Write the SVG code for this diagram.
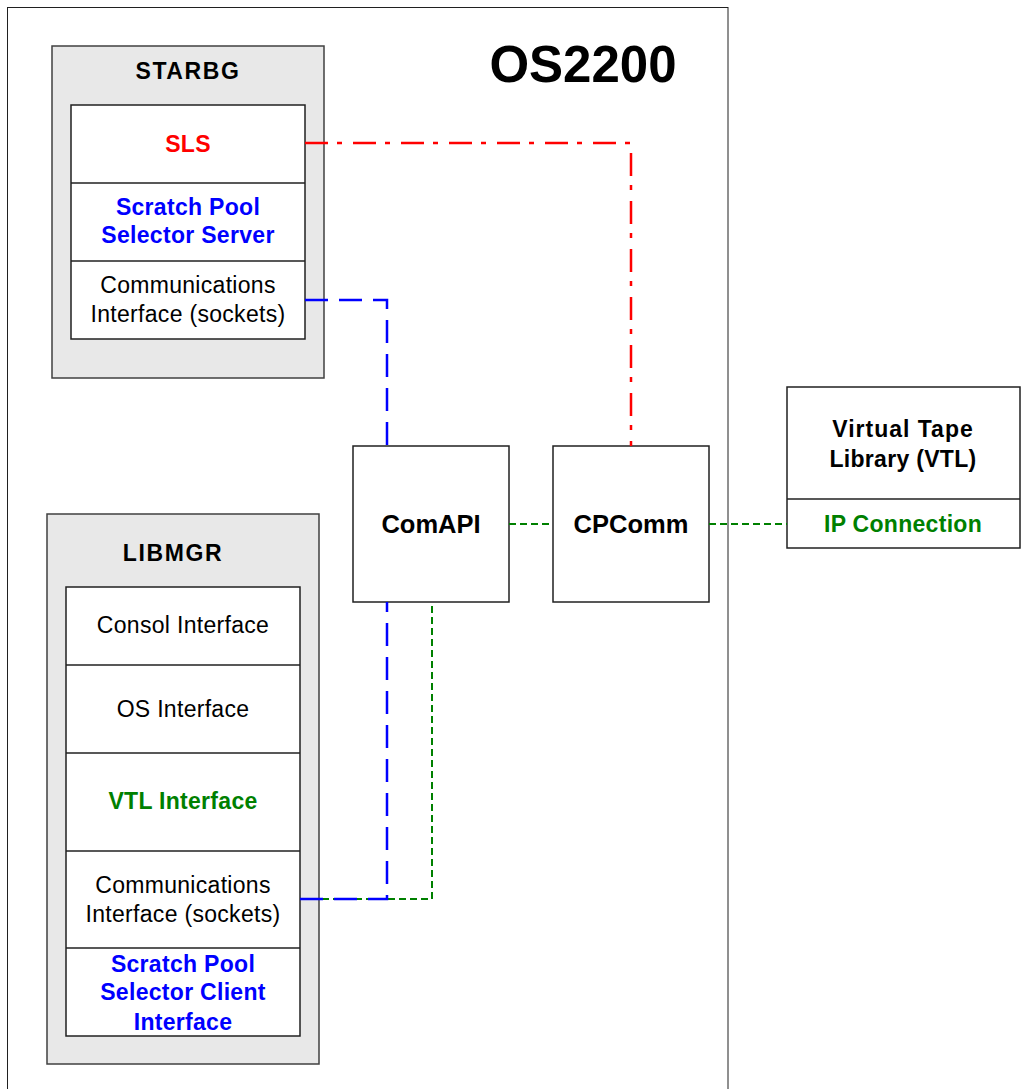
<svg xmlns="http://www.w3.org/2000/svg" width="1023" height="1089" viewBox="0 0 1023 1089">
<style>
  text { font-family: "Liberation Sans", Arial, sans-serif; text-anchor: middle; }
  .t { font-size: 23px; fill: #000; letter-spacing: 0.3px; }
  .b { font-weight: bold; }
  .wide { letter-spacing: 1.6px; }
  .red { fill: #ff0000; }
  .blue { fill: #0000ff; }
  .green { fill: #008000; }
  .grp { fill: #e8e8e8; stroke: #404040; stroke-width: 1.5; }
  .box { fill: #ffffff; stroke: #202020; stroke-width: 1.5; }
  .div { stroke: #202020; stroke-width: 1.5; fill: none; }
  .cR { stroke: #ff0000; stroke-width: 2.5; fill: none; stroke-dasharray: 23 9 5 11; }
  .cB { stroke: #0000ff; stroke-width: 2.5; fill: none; stroke-dasharray: 23 11; }
  .cG { stroke: #008000; stroke-width: 2; fill: none; stroke-dasharray: 7 4; }
</style>

<g id="os2200">
  <rect x="7.5" y="7.5" width="720.5" height="1095" fill="#ffffff" stroke="#202020" stroke-width="1"/>
  <text x="583" y="82" font-size="51" font-weight="bold">OS2200</text>
</g>

<g id="starbg">
  <rect class="grp" x="52" y="46" width="272" height="332"/>
  <text class="t b wide" x="188" y="79">STARBG</text>
  <rect class="box" x="71" y="105" width="234" height="234"/>
  <line class="div" x1="71" y1="183" x2="305" y2="183"/>
  <line class="div" x1="71" y1="261" x2="305" y2="261"/>
</g>
<g id="sls">
  <text class="t b red" x="188" y="152">SLS</text>
</g>
<g id="sps-server">
  <text class="t b blue" x="188" y="215">Scratch Pool</text>
  <text class="t b blue" x="188" y="243">Selector Server</text>
</g>
<g id="starbg-comm">
  <text class="t" x="188" y="293">Communications</text>
  <text class="t" x="188" y="322">Interface (sockets)</text>
</g>

<g id="libmgr">
  <rect class="grp" x="47" y="514" width="272" height="550"/>
  <text class="t b wide" x="173" y="561">LIBMGR</text>
  <rect class="box" x="66" y="587" width="234" height="449"/>
  <line class="div" x1="66" y1="665" x2="300" y2="665"/>
  <line class="div" x1="66" y1="753" x2="300" y2="753"/>
  <line class="div" x1="66" y1="851" x2="300" y2="851"/>
  <line class="div" x1="66" y1="948" x2="300" y2="948"/>
</g>
<g id="consol">
  <text class="t" x="183" y="633">Consol Interface</text>
</g>
<g id="os-interface">
  <text class="t" x="183" y="717">OS Interface</text>
</g>
<g id="vtl-interface">
  <text class="t b green" x="183" y="809">VTL Interface</text>
</g>
<g id="libmgr-comm">
  <text class="t" x="183" y="893">Communications</text>
  <text class="t" x="183" y="922">Interface (sockets)</text>
</g>
<g id="sps-client">
  <text class="t b blue" x="183" y="972">Scratch Pool</text>
  <text class="t b blue" x="183" y="1000">Selector Client</text>
  <text class="t b blue" x="183" y="1030">Interface</text>
</g>

<g id="comapi">
  <rect class="box" x="353" y="446" width="156" height="156"/>
  <text x="431" y="533" font-size="25.5" font-weight="bold">ComAPI</text>
</g>
<g id="cpcomm">
  <rect class="box" x="553" y="446" width="156" height="156"/>
  <text x="631" y="533" font-size="25.5" font-weight="bold">CPComm</text>
</g>

<g id="vtl">
  <rect class="box" x="787" y="387" width="233" height="161"/>
  <line class="div" x1="787" y1="499" x2="1020" y2="499"/>
  <text class="t b" x="903" y="437" style="letter-spacing:1px">Virtual Tape</text>
  <text class="t b" x="903" y="467">Library (VTL)</text>
</g>
<g id="ip-connection">
  <text class="t b green" x="903" y="532">IP Connection</text>
</g>

<g id="connectors">
  <polyline class="cR" points="305,143 631,143 631,446"/>
  <polyline class="cB" points="305,300 387,300 387,446"/>
  <line class="cG" x1="509" y1="524" x2="553" y2="524"/>
  <line class="cG" x1="709" y1="524" x2="787" y2="524"/>
  <polyline class="cG" points="300,899 432,899 432,602"/>
  <polyline class="cB" points="300,899 387,899 387,602"/>
</g>
</svg>
